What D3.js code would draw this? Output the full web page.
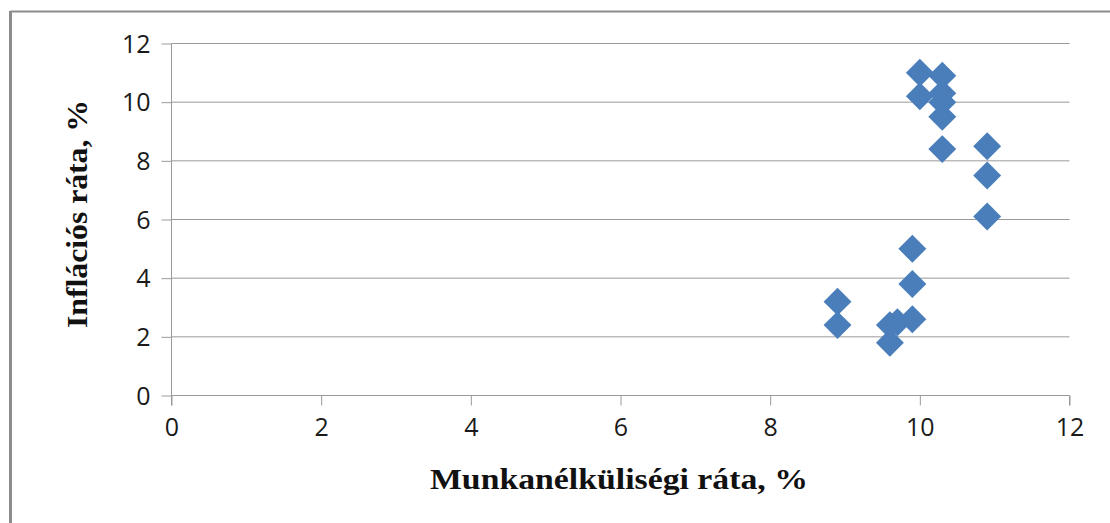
<!DOCTYPE html>
<html><head><meta charset="utf-8">
<script src="https://cdn.jsdelivr.net/npm/d3@7"></script>
<style>html,body{margin:0;padding:0;background:#fff;}svg{display:block;}</style>
</head><body>
<script>
const unemployment = [8.9, 8.9, 9.6, 9.6, 9.7, 9.9, 9.9, 9.9, 10.0, 10.0, 10.3, 10.3, 10.3, 10.3, 10.3, 10.9, 10.9, 10.9];
const inflation    = [3.2, 2.4, 1.8, 2.4, 2.5, 2.6, 3.8, 5.0, 11.0, 10.2, 10.9, 10.3, 10.0, 9.5, 8.4, 8.5, 7.5, 6.1];
const xTicks = [0, 2, 4, 6, 8, 10, 12];
const yTicks = [0, 2, 4, 6, 8, 10, 12];
const xTitle = "Munkanélküliségi  ráta, %";
const yTitle = "Inflációs ráta, %";

const W = 1110, H = 523;
const svg = d3.select("body").append("svg").attr("width", W).attr("height", H);

// outer frame (top and left edges visible)
svg.append("line").attr("x1", 10.5).attr("x2", W).attr("y1", 11.5).attr("y2", 11.5)
  .attr("stroke", "#8c8c8c").attr("stroke-width", 2);
svg.append("line").attr("x1", 10.5).attr("x2", 10.5).attr("y1", 11).attr("y2", H)
  .attr("stroke", "#8c8c8c").attr("stroke-width", 3);

const x = d3.scaleLinear().domain([0, 12]).range([171.5, 1069.5]);
const y = d3.scaleLinear().domain([0, 12]).range([395.5, 43.5]);

// gridlines
svg.append("g").selectAll("line").data(yTicks.filter(d => d > 0)).join("line")
  .attr("x1", x(0)).attr("x2", x(12)).attr("y1", d => y(d)).attr("y2", d => y(d))
  .attr("stroke", "#9a9a9a").attr("stroke-width", 1);

// axes
const xAxis = d3.axisBottom(x).tickValues(xTicks).tickSize(10).tickPadding(13).tickFormat(d3.format("d"));
const yAxis = d3.axisLeft(y).tickValues(yTicks).tickSize(10).tickPadding(11).tickFormat(d3.format("d"));
const gx = svg.append("g").attr("transform", `translate(0,${y(0)})`).call(xAxis);
const gy = svg.append("g").attr("transform", `translate(${x(0)},0)`).call(yAxis);
[gx, gy].forEach(g => {
  g.select(".domain").attr("stroke", "#9a9a9a");
  g.selectAll(".tick line").attr("stroke", "#9a9a9a");
  g.selectAll(".tick text").attr("fill", "#1a1a1a").style("font-family", "'Open Sans', sans-serif").style("font-size", "25px");
});
gx.select(".domain").attr("d", `M${x(0)},10V0H${x(12)}V10`);
gy.select(".domain").attr("d", `M0,${y(12)}H0V${y(0)}`);
gy.selectAll(".tick text").attr("dy", "0.35em");

// points
const pts = unemployment.map((u, i) => ({u, v: inflation[i]}));
const diamond = d3.symbol().type(d3.symbolSquare).size(390);
svg.append("g").selectAll("path").data(pts).join("path")
  .attr("d", diamond)
  .attr("transform", d => `translate(${x(d.u)},${y(d.v)}) rotate(45)`)
  .attr("fill", "#4a7ebb");

// titles
svg.append("text").attr("x", 619).attr("y", 489).attr("text-anchor", "middle")
  .style("font-family", "'Liberation Serif', 'Times New Roman', serif").style("font-weight", "bold").style("font-size", "30px")
  .attr("textLength", 378).attr("lengthAdjust", "spacingAndGlyphs")
  .attr("fill", "#111").text(xTitle);
svg.append("text").attr("transform", "translate(87,214) rotate(-90)").attr("text-anchor", "middle")
  .style("font-family", "'Liberation Serif', 'Times New Roman', serif").style("font-weight", "bold").style("font-size", "30px")
  .attr("textLength", 228).attr("lengthAdjust", "spacingAndGlyphs")
  .attr("fill", "#111").text(yTitle);
</script>
</body></html>
